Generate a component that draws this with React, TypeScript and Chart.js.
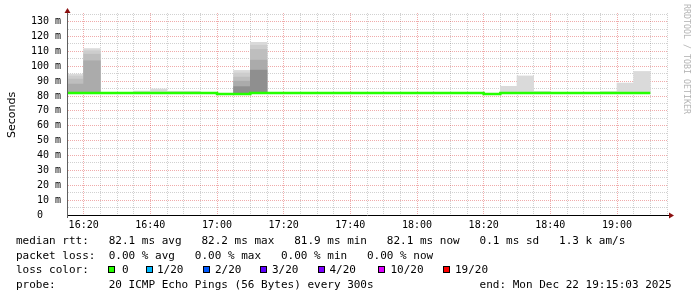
import React, { useEffect, useRef } from "react";
import { Chart, registerables } from "chart.js";

Chart.register(...registerables);

// ---------- data ----------
const ORIGIN = "16:15"; // left edge of the time axis
const axisEnd = "19:15";
const binStarts = [
  "16:15", "16:20", "16:25", "16:30", "16:35", "16:40", "16:45", "16:50", "16:55",
  "17:00", "17:05", "17:10", "17:15", "17:20", "17:25", "17:30", "17:35", "17:40",
  "17:45", "17:50", "17:55", "18:00", "18:05", "18:10", "18:15", "18:20", "18:25",
  "18:30", "18:35", "18:40", "18:45", "18:50", "18:55", "19:00", "19:05",
];
const binEnd = "19:10";
const binMinutes = 5;

const medianRtt = [
  82.1, 82.1, 82.1, 82.1, 82.1, 82.1, 82.1, 82.1, 82.1,
  81.4, 81.4, 82.1, 82.1, 82.1, 82.1, 82.1, 82.1, 82.1,
  82.1, 82.1, 82.1, 82.1, 82.1, 82.1, 82.1, 81.4, 82.1,
  82.1, 82.1, 82.1, 82.1, 82.1, 82.1, 82.1, 82.1,
];
const smokeMin = [
  81.8, 81.8, 81.8, 81.8, 81.8, 81.8, 81.8, 81.8, 81.8,
  81.6, 81.6, 81.8, 81.8, 81.8, 81.8, 81.8, 81.8, 81.8,
  81.8, 81.8, 81.8, 81.8, 81.8, 81.8, 81.8, 81.6, 81.8,
  81.8, 81.8, 81.8, 81.8, 81.8, 81.8, 81.8, 81.8,
];
// smoke band tops, outermost (lightest) to innermost (darkest)
const smokeL1 = [
  94.7, 111.9, null, null, 83.3, 84.7, 83.2, 83.2, null,
  null, 97.2, 116.0, null, null, null, null, null, null,
  null, null, null, null, null, null, null, null, 86.5,
  93.5, 83.1, null, null, null, 83.0, 88.7, 96.5,
];
const smokeL2 = [
  93.4, 110.4, null, null, null, null, null, null, null,
  null, 95.4, 114.1, null, null, null, null, null, null,
  null, null, null, null, null, null, null, null, null,
  null, null, null, null, null, null, null, null,
];
const smokeL3 = [
  91.4, 108.1, null, null, null, null, null, null, null,
  null, 92.7, 111.3, null, null, null, null, null, null,
  null, null, null, null, null, null, null, null, null,
  null, null, null, null, null, null, null, null,
];
const smokeL4 = [
  88.0, 103.7, null, null, null, null, null, null, null,
  null, 90.0, 104.1, null, null, null, null, null, null,
  null, null, null, null, null, null, null, null, null,
  null, null, null, null, null, null, null, null,
];
const smokeL5 = [
  null, null, null, null, null, null, null, null, null,
  null, 86.3, 97.4, null, null, null, null, null, null,
  null, null, null, null, null, null, null, null, null,
  null, null, null, null, null, null, null, null,
];
const smokeLayers = [smokeL1, smokeL2, smokeL3, smokeL4, smokeL5];
const smokeColors = ["#dadada", "#cdcdcd", "#bebebe", "#ababab", "#8f8f8f"];

const xTickLabels = ["16:20", "16:40", "17:00", "17:20", "17:40", "18:00", "18:20", "18:40", "19:00"];
const yTickValues = [0, 10, 20, 30, 40, 50, 60, 70, 80, 90, 100, 110, 120, 130];
const yTickLabels = ["0   ", "10 m", "20 m", "30 m", "40 m", "50 m", "60 m", "70 m", "80 m", "90 m", "100 m", "110 m", "120 m", "130 m"];
const yMax = 135.8;

const yTitle = "Seconds";
const watermark = "RRDTOOL / TOBI OETIKER";
const rttStats = ["82.1 ms avg", "82.2 ms max", "81.9 ms min", "82.1 ms now", "0.1 ms sd", "1.3 k am/s"];
const lossStats = ["0.00 % avg", "0.00 % max", "0.00 % min", "0.00 % now"];
const lossLabels = ["0", "1/20", "2/20", "3/20", "4/20", "10/20", "19/20"];
const lossColors = ["#26ff00", "#00b8ff", "#0059ff", "#5e00ff", "#7e00ff", "#dd00ff", "#ff0000"];
const probeText = "20 ICMP Echo Pings (56 Bytes) every 300s";
const endText = "end: Mon Dec 22 19:15:03 2025";

// ---------- helpers ----------
const toMin = (t: string) => {
  const [h, m] = t.split(":").map(Number);
  const [h0, m0] = ORIGIN.split(":").map(Number);
  return h * 60 + m - (h0 * 60 + m0);
};
const xLabelFor = (v: number) => {
  const found = xTickLabels.find((l) => toMin(l) === v);
  return found ?? "";
};

const MAJOR = "rgba(210,0,0,0.33)";
const MINOR = "rgba(0,0,0,0.18)";
const MONO = "'DejaVu Sans Mono', monospace";

const decor = {
  id: "decor",
  afterDraw(chart: any) {
    const { ctx, chartArea } = chart;
    const { left, right, top, bottom } = chartArea;
    ctx.save();
    ctx.lineWidth = 1;
    ctx.strokeStyle = "#000";
    ctx.beginPath();
    ctx.moveTo(right, bottom + 0.5);
    ctx.lineTo(right + 3, bottom + 0.5);
    ctx.stroke();
    ctx.strokeStyle = "#606060";
    ctx.beginPath();
    ctx.moveTo(left + 0.5, bottom);
    ctx.lineTo(left + 0.5, bottom + 3);
    ctx.moveTo(left + 0.5, top);
    ctx.lineTo(left + 0.5, top - 2);
    ctx.stroke();
    ctx.fillStyle = "#8b1010";
    ctx.beginPath();
    ctx.moveTo(left + 0.5, top - 5);
    ctx.lineTo(left - 2.5, top);
    ctx.lineTo(left + 3.5, top);
    ctx.closePath();
    ctx.fill();
    ctx.beginPath();
    ctx.moveTo(right + 7, bottom + 0.5);
    ctx.lineTo(right + 2, bottom - 2.5);
    ctx.lineTo(right + 2, bottom + 3.5);
    ctx.closePath();
    ctx.fill();
    ctx.restore();
  },
};

export default function App() {
  const ref = useRef<HTMLCanvasElement>(null);

  useEffect(() => {
    const barSets = smokeLayers.map((layer, li) => ({
      type: "bar" as const,
      data: binStarts
        .map((t, i) =>
          layer[i] == null ? null : { x: toMin(t) + binMinutes / 2, y: [smokeMin[i], layer[i] as number] }
        )
        .filter((p) => p !== null),
      backgroundColor: smokeColors[li],
      borderWidth: 0,
      barPercentage: 1,
      categoryPercentage: 1,
      grouped: false,
      order: 10 - li,
    }));
    const lineData = binStarts
      .map((t, i) => ({ x: toMin(t), y: medianRtt[i] }))
      .concat([{ x: toMin(binEnd), y: medianRtt[medianRtt.length - 1] }]);

    const chart = new Chart(ref.current as HTMLCanvasElement, {
      type: "line",
      data: {
        datasets: [
          ...barSets,
          {
            type: "line",
            data: lineData,
            borderColor: "#26ff00",
            borderWidth: 2.5,
            stepped: "before",
            pointRadius: 0,
            fill: false,
            borderCapStyle: "butt",
            order: 0,
          },
        ] as any,
      },
      options: {
        responsive: false,
        devicePixelRatio: 1,
        animation: false,
        events: [],
        layout: { padding: { left: 0, right: 30, top: 13, bottom: 62 } },
        plugins: { legend: { display: false }, tooltip: { enabled: false } },
        scales: {
          x: {
            type: "linear",
            min: 0,
            max: toMin(axisEnd),
            offset: false,
            afterFit: (s: any) => {
              s.height = 20;
            },
            grid: {
              offset: false,
              drawTicks: false,
              color: (c: any) => (c.tick && xLabelFor(c.tick.value) ? MAJOR : MINOR),
              lineWidth: 1,
            },
            border: { color: "#000", width: 1, dash: [1, 1], z: 1 },
            ticks: {
              stepSize: binMinutes,
              autoSkip: false,
              maxRotation: 0,
              padding: 4,
              color: "#000",
              font: { family: MONO, size: 10 },
              callback: (v: any) => xLabelFor(Number(v)),
            },
          },
          y: {
            type: "linear",
            min: 0,
            max: yMax,
            afterFit: (s: any) => {
              s.width = 67;
            },
            grid: {
              drawTicks: false,
              color: (c: any) => (c.tick && yTickValues.includes(c.tick.value) ? MAJOR : MINOR),
              lineWidth: 1,
            },
            border: { color: "#606060", width: 1, dash: [1, 1], z: 1 },
            ticks: {
              stepSize: 5,
              includeBounds: false,
              autoSkip: false,
              padding: 6,
              color: "#000",
              font: { family: MONO, size: 10 },
              callback: (v: any) => {
                const idx = yTickValues.indexOf(Number(v));
                return idx >= 0 ? yTickLabels[idx] : "";
              },
            },
          },
        },
      } as any,
      plugins: [decor],
    });
    return () => chart.destroy();
  }, []);

  const rowStyle = (top: number): React.CSSProperties => ({
    position: "absolute",
    left: 16,
    top,
    font: `11px ${MONO}`,
    lineHeight: "14px",
    whiteSpace: "pre",
    color: "#000",
  });

  const row1 =
    "median rtt:".padEnd(14) +
    rttStats[0].padEnd(14) +
    rttStats[1].padEnd(14) +
    rttStats[2].padEnd(14) +
    rttStats[3].padEnd(14) +
    rttStats[4].padEnd(12) +
    rttStats[5];
  const row2 =
    "packet loss:".padEnd(14) +
    lossStats[0].padEnd(13) +
    lossStats[1].padEnd(13) +
    lossStats[2].padEnd(13) +
    lossStats[3];
  const row4 = "probe:".padEnd(14) + probeText.padEnd(56) + endText;

  const boxLefts = [108, 146, 203, 260, 318, 378, 443];
  const labelLefts = [122, 157, 215, 272, 329.5, 390.5, 455];

  return (
    <div style={{ position: "fixed", left: 0, top: 0, width: 697, height: 297, background: "#fff", overflow: "hidden" }}>
      <canvas ref={ref} width={697} height={297} style={{ position: "absolute", left: 0, top: 0, width: 697, height: 297 }} />
      <div
        style={{
          position: "absolute",
          left: 5.7,
          top: 137.5,
          transformOrigin: "left top",
          transform: "rotate(-90deg)",
          font: "11px 'DejaVu Sans', sans-serif",
          lineHeight: "11px",
          whiteSpace: "nowrap",
          color: "#000",
        }}
      >
        {yTitle}
      </div>
      <div
        style={{
          position: "absolute",
          left: 691,
          top: 3.5,
          transformOrigin: "left top",
          transform: "rotate(90deg)",
          font: `8.3px ${MONO}`,
          lineHeight: "8.3px",
          whiteSpace: "nowrap",
          color: "#b4b4b4",
        }}
      >
        {watermark}
      </div>
      <div style={rowStyle(234.2)}>{row1}</div>
      <div style={rowStyle(248.6)}>{row2}</div>
      <div style={rowStyle(263.1)}>{"loss color:"}</div>
      {lossLabels.map((l, i) => (
        <React.Fragment key={l}>
          <div
            style={{
              position: "absolute",
              left: boxLefts[i],
              top: 266,
              width: 5,
              height: 5,
              border: "1px solid #000",
              background: lossColors[i],
            }}
          />
          <div style={{ ...rowStyle(263.1), left: labelLefts[i] }}>{l}</div>
        </React.Fragment>
      ))}
      <div style={rowStyle(277.5)}>{row4}</div>
    </div>
  );
}
